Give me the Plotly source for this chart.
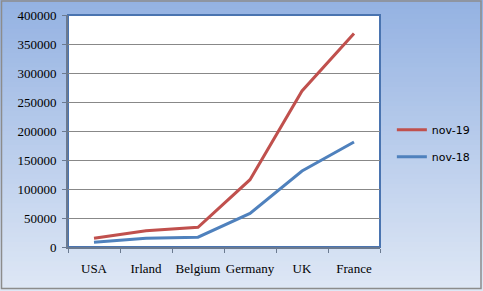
import plotly.graph_objects as go

categories = ["USA", "Irland", "Belgium", "Germany", "UK", "France"]
nov19 = [15000, 28000, 34000, 116000, 269000, 368000]
nov18 = [8000, 15000, 17000, 58000, 131000, 181000]
series_names = ["nov-19", "nov-18"]

W, H = 483, 291
L, R, T, B = 68, 103, 15, 44
pw, ph = W - L - R, H - T - B

fig = go.Figure()
fig.add_trace(go.Scatter(x=categories, y=nov19, name=series_names[0], mode="lines",
                         line=dict(color="#C0504D", width=3), legendgroup="a"))
fig.add_trace(go.Scatter(x=categories, y=nov18, name=series_names[1], mode="lines",
                         line=dict(color="#4F81BD", width=3), legendgroup="b"))

# gradient background strips (paper coordinates)
shapes = []
n = 60
x0p, x1p = -L / pw, 1 + R / pw
y0p, y1p = -B / ph, 1 + T / ph
top = (148, 178, 226)
bot = (222, 231, 245)
for i in range(n):
    f = i / (n - 1)
    c = tuple(int(round(top[k] + (bot[k] - top[k]) * f)) for k in range(3))
    ya = y1p - (y1p - y0p) * i / n
    yb = y1p - (y1p - y0p) * (i + 1) / n
    shapes.append(dict(type="rect", xref="paper", yref="paper", x0=x0p, x1=x1p,
                       y0=yb - 0.002, y1=ya + 0.002, fillcolor="rgb(%d,%d,%d)" % c,
                       line=dict(width=0), layer="below"))
# plot area white with blue border
shapes.append(dict(type="rect", xref="paper", yref="paper", x0=0, x1=1, y0=0, y1=1,
                   fillcolor="white", line=dict(color="#4A74B0", width=2), layer="below"))
# outer border
shapes.append(dict(type="rect", xref="paper", yref="paper", x0=x0p + 1.5 / pw, x1=x1p - 2 / pw,
                   y0=y0p + 2.5 / ph, y1=y1p - 1 / ph, fillcolor="rgba(0,0,0,0)",
                   line=dict(color="#8C8C8C", width=1.5), layer="above"))

fig.update_layout(
    width=W, height=H,
    margin=dict(l=L, r=R, t=T, b=B, autoexpand=False),
    paper_bgcolor="#C8D6EE",
    plot_bgcolor="white",
    shapes=shapes,
    showlegend=True,
    legend=dict(x=1.038, y=0.447, xanchor="left", yanchor="middle",
                bgcolor="rgba(0,0,0,0)", font=dict(family="DejaVu Sans", size=11, color="#000"),
                tracegroupgap=8, itemwidth=30),
    xaxis=dict(type="category", tickson="boundaries", ticks="outside", ticklen=4,
               tickcolor="#6B7A90", showline=True, linecolor="#6B7A90", linewidth=2,
               showgrid=False, tickfont=dict(family="Liberation Serif", size=13, color="#000"),
               tickangle=0, automargin=False, range=[-0.5, 5.5], ticklabelstandoff=8),
    yaxis=dict(range=[0, 400000], dtick=50000, ticks="outside", ticklen=4,
               tickcolor="#6B7A90", showline=True, linecolor="#6B7A90", linewidth=2,
               gridcolor="#888888", gridwidth=1, zeroline=False, automargin=False,
               tickfont=dict(family="Liberation Serif", size=13, color="#000"),
               tickformat="d", ticklabelstandoff=3),
)
fig.write_html("out.html")
